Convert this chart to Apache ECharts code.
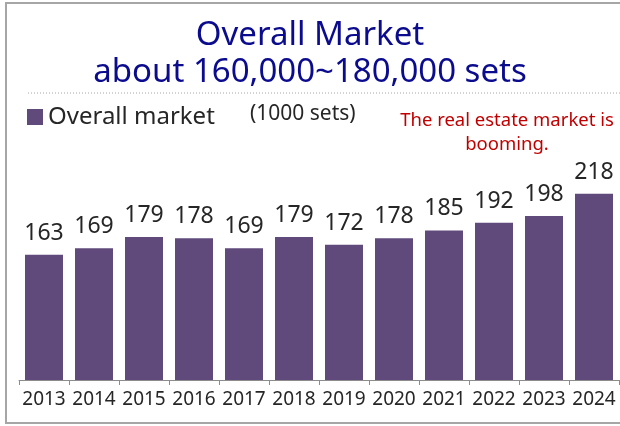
<!DOCTYPE html>
<html>
<head>
<meta charset="utf-8">
<script src="https://cdn.jsdelivr.net/npm/echarts@6/dist/echarts.min.js"></script>
<style>
  html, body { margin: 0; padding: 0; background: #fff; }
  #main { width: 620px; height: 426px; }
</style>
</head>
<body>
<div id="main"></div>
<script>
// chart data
const years = ['2013', '2014', '2015', '2016', '2017', '2018', '2019', '2020', '2021', '2022', '2023', '2024']
const overallMarket = [163, 169, 179, 178, 169, 179, 172, 178, 185, 192, 198, 218]
const titleLines = ['Overall Market', 'about 160,000~180,000 sets']
const seriesName = 'Overall market'
const unitText = '(1000 sets)'
const noteLines = ['The real estate market is', 'booming.']

const fontFamily = '"Noto Sans", "Open Sans", sans-serif'
const chart = echarts.init(document.getElementById('main'))

chart.setOption({
  animation: false,
  title: [
    {
      text: titleLines.join('\n'),
      left: 'center',
      top: 12,
      textStyle: {
        color: '#0B0B8E',
        fontFamily: fontFamily,
        fontSize: 33,
        fontWeight: 'normal',
        lineHeight: 37
      }
    },
    {
      text: unitText,
      left: 245,
      top: 99,
      textStyle: {
        color: '#262626',
        fontFamily: fontFamily,
        fontSize: 21,
        fontWeight: 'normal'
      }
    },
    {
      text: noteLines.join('\n'),
      left: 502,
      top: 104,
      textAlign: 'center',
      textStyle: {
        color: '#C00000',
        fontFamily: fontFamily,
        fontSize: 18.5,
        fontWeight: 'normal',
        lineHeight: 24
      }
    }
  ],
  legend: {
    left: 22,
    top: 100,
    icon: 'rect',
    itemWidth: 16,
    itemHeight: 16,
    itemGap: 6,
    textStyle: {
      color: '#262626',
      fontFamily: fontFamily,
      fontSize: 24
    },
    data: [seriesName]
  },
  grid: {
    left: 19,
    right: 1,
    top: 103,
    bottom: 46
  },
  xAxis: {
    type: 'category',
    data: years,
    axisLine: { lineStyle: { color: '#8C8C8C', width: 1 } },
    axisTick: { show: true, length: 5, alignWithLabel: false, lineStyle: { color: '#8C8C8C' } },
    axisLabel: {
      color: '#262626',
      fontFamily: fontFamily,
      fontSize: 19,
      margin: 10,
      interval: 0
    }
  },
  yAxis: {
    type: 'value',
    min: 50,
    max: 300,
    show: false,
    splitLine: { show: false }
  },
  series: [
    {
      name: seriesName,
      type: 'bar',
      data: overallMarket,
      barCategoryGap: '24%',
      itemStyle: { color: '#604A7B' },
      label: {
        show: true,
        position: 'top',
        distance: 10,
        color: '#262626',
        fontFamily: fontFamily,
        fontSize: 23
      }
    }
  ],
  graphic: [
    {
      type: 'rect',
      shape: { x: 6, y: 3, width: 630, height: 420 },
      style: { fill: 'none', stroke: '#A6A6A6', lineWidth: 2 },
      silent: true
    },
    {
      type: 'line',
      shape: { x1: 28, y1: 93, x2: 620, y2: 93 },
      style: { stroke: '#A6A6A6', lineWidth: 1, lineDash: [1, 2] },
      silent: true
    }
  ]
})
</script>
</body>
</html>
